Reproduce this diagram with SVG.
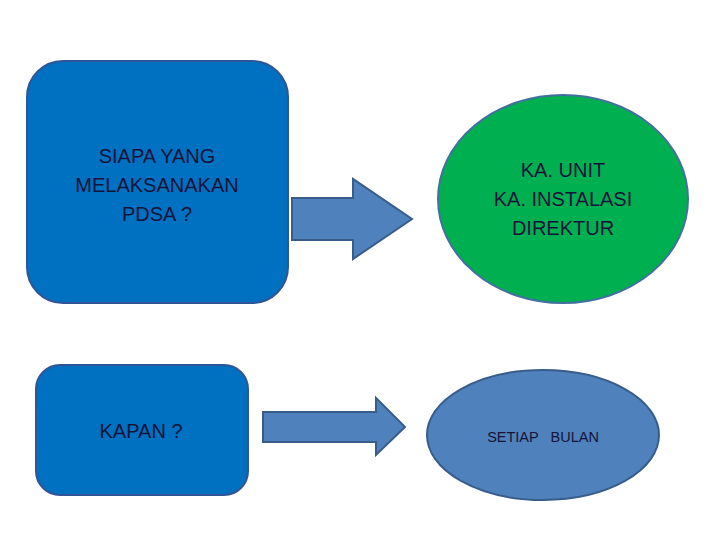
<svg xmlns="http://www.w3.org/2000/svg" width="720" height="540" viewBox="0 0 720 540">
<style>
.box{fill:#0070C0;stroke:#2F5597;stroke-width:2}
.arrow{fill:#4F81BD;stroke:#385D8A;stroke-width:2}
.t{font-family:"Liberation Sans",Arial,sans-serif;fill:#14143a;text-anchor:middle}
</style>
<rect width="720" height="540" fill="#ffffff"/>
<g id="node-siapa">
<rect class="box" x="27" y="61" width="261" height="242" rx="36"/>
<text class="t" font-size="20"><tspan x="157" y="163">SIAPA YANG</tspan><tspan x="157" y="192">MELAKSANAKAN</tspan><tspan x="157" y="221">PDSA ?</tspan></text>
</g>
<g id="node-kapan">
<rect class="box" x="36" y="365" width="212" height="130" rx="24"/>
<text class="t" font-size="20" x="141" y="438">KAPAN ?</text>
</g>
<g id="node-ka">
<ellipse cx="563" cy="199" rx="125" ry="104" fill="#00B050" stroke="#41719C" stroke-width="2"/>
<text class="t" font-size="20"><tspan x="563" y="177">KA. UNIT</tspan><tspan x="563" y="206">KA. INSTALASI</tspan><tspan x="563" y="235">DIREKTUR</tspan></text>
</g>
<g id="node-setiap">
<ellipse cx="543" cy="435" rx="116" ry="65" fill="#4F81BD" stroke="#385D8A" stroke-width="2"/>
<text class="t" font-size="14.5" x="543" y="442" xml:space="preserve">SETIAP   BULAN</text>
</g>
<g id="connectors">
<polygon class="arrow" points="292,198 353,198 353,179 412,219 353,259 353,240 292,240"/>
<polygon class="arrow" points="263,412 376,412 376,398 405,427 376,455 376,442 263,442"/>
</g>
</svg>
